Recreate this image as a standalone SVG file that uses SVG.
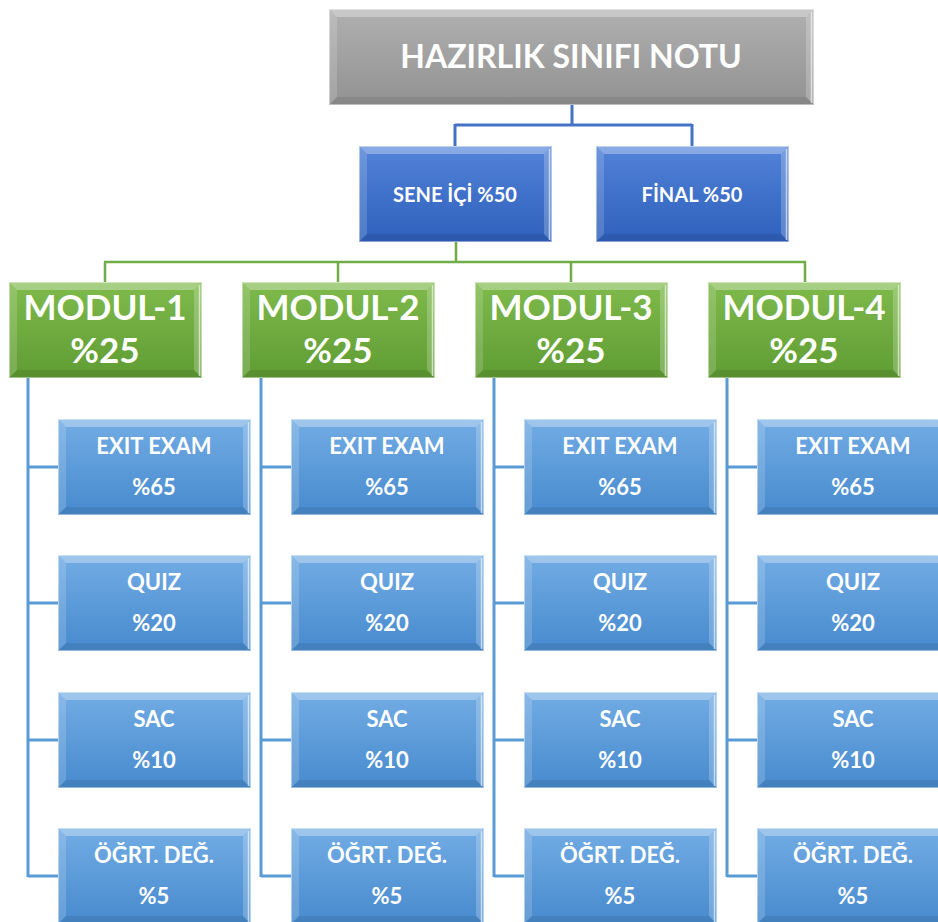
<svg xmlns="http://www.w3.org/2000/svg" xmlns:xlink="http://www.w3.org/1999/xlink" width="938" height="922" viewBox="0 0 938 922">
<style>
text{font-family:Lato,"Open Sans","Liberation Sans",sans-serif;font-weight:bold;fill:#ffffff;text-anchor:middle}
.t0{font-size:32px}
.t1{font-size:20px}
.t2{font-size:35px}
.t3{font-size:22px}
.cb{stroke:#4472c4;stroke-width:3;fill:none}
.cg{stroke:#70ad47;stroke-width:2.5;fill:none}
.cl{stroke:#5b9bd5;stroke-width:3;fill:none}
.edge{fill:none;stroke:#ffffff;stroke-opacity:0.45;stroke-width:1}
</style>
<defs>
<linearGradient id="gGray" x1="0" y1="0" x2="0" y2="1"><stop offset="0" stop-color="#b0b0b0"/><stop offset="1" stop-color="#929292"/></linearGradient>
<linearGradient id="gBlue" x1="0" y1="0" x2="0" y2="1"><stop offset="0" stop-color="#5283d8"/><stop offset="1" stop-color="#2f60bc"/></linearGradient>
<linearGradient id="gGreen" x1="0" y1="0" x2="0" y2="1"><stop offset="0" stop-color="#7fba4c"/><stop offset="1" stop-color="#5f9c33"/></linearGradient>
<linearGradient id="gLight" x1="0" y1="0" x2="0" y2="1"><stop offset="0" stop-color="#72ace4"/><stop offset="1" stop-color="#478ace"/></linearGradient>
<g id="bev">
<polygon points="0,0 193,0 185,8 8,8" fill="#ffffff" fill-opacity="0.32"/>
<polygon points="0,0 8,8 8,88 0,96" fill="#ffffff" fill-opacity="0.16"/>
<polygon points="193,0 193,96 185,88 185,8" fill="#ffffff" fill-opacity="0.22"/>
<polygon points="0,96 8,88 185,88 193,96" fill="#000000" fill-opacity="0.08"/>
<line x1="190.5" y1="3" x2="190.5" y2="94" stroke="#ffffff" stroke-opacity="0.6" stroke-width="1.5"/>
<rect x="0.5" y="0.5" width="192" height="95" class="edge"/>
</g>
<g id="bevW">
<polygon points="0,0 485,0 477,8 8,8" fill="#ffffff" fill-opacity="0.32"/>
<polygon points="0,0 8,8 8,88 0,96" fill="#ffffff" fill-opacity="0.16"/>
<polygon points="485,0 485,96 477,88 477,8" fill="#ffffff" fill-opacity="0.22"/>
<polygon points="0,96 8,88 477,88 485,96" fill="#000000" fill-opacity="0.08"/>
<line x1="482.5" y1="3" x2="482.5" y2="94" stroke="#ffffff" stroke-opacity="0.6" stroke-width="1.5"/>
<rect x="0.5" y="0.5" width="484" height="95" class="edge"/>
</g>
</defs>
<rect width="938" height="922" fill="#ffffff"/>

<g id="connectors">
<path class="cb" d="M572,105 V125 M455,125 H692 M455,124 V146 M692,124 V146"/>
<path class="cg" d="M456,242 V262 M104,262 H806 M105,262 V282 M338,262 V282 M571,262 V282 M805,262 V282"/>
<path class="cl" d="M28,378 V877 M28,467 H58 M28,603 H58 M28,740 H58 M28,876 H58"/>
<path class="cl" d="M261,378 V877 M261,467 H291 M261,603 H291 M261,740 H291 M261,876 H291"/>
<path class="cl" d="M494,378 V877 M494,467 H524 M494,603 H524 M494,740 H524 M494,876 H524"/>
<path class="cl" d="M727,378 V877 M727,467 H757 M727,603 H757 M727,740 H757 M727,876 H757"/>
</g>

<g id="root">
<rect x="329" y="9" width="485" height="96" fill="url(#gGray)"/>
<use xlink:href="#bevW" x="329" y="9"/>
<text class="t0" x="571" y="68">HAZIRLIK SINIFI NOTU</text>
</g>
<g id="sene-ici">
<rect x="359" y="146" width="193" height="96" fill="url(#gBlue)"/>
<use xlink:href="#bev" x="359" y="146"/>
<text class="t1" x="455" y="202">SENE İÇİ %50</text>
</g>
<g id="final">
<rect x="596" y="146" width="193" height="96" fill="url(#gBlue)"/>
<use xlink:href="#bev" x="596" y="146"/>
<text class="t1" x="692" y="202">FİNAL %50</text>
</g>

<g id="modul-1">
<rect x="9" y="282" width="193" height="96" fill="url(#gGreen)"/>
<use xlink:href="#bev" x="9" y="282"/>
<text class="t2" x="105" y="320">MODUL-1</text>
<text class="t2" x="105" y="363">%25</text>
</g>
<g id="modul-2">
<rect x="242" y="282" width="193" height="96" fill="url(#gGreen)"/>
<use xlink:href="#bev" x="242" y="282"/>
<text class="t2" x="338" y="320">MODUL-2</text>
<text class="t2" x="338" y="363">%25</text>
</g>
<g id="modul-3">
<rect x="475" y="282" width="193" height="96" fill="url(#gGreen)"/>
<use xlink:href="#bev" x="475" y="282"/>
<text class="t2" x="571" y="320">MODUL-3</text>
<text class="t2" x="571" y="363">%25</text>
</g>
<g id="modul-4">
<rect x="708" y="282" width="193" height="96" fill="url(#gGreen)"/>
<use xlink:href="#bev" x="708" y="282"/>
<text class="t2" x="804" y="320">MODUL-4</text>
<text class="t2" x="804" y="363">%25</text>
</g>

<g id="m1-exit"><rect x="58" y="419" width="193" height="96" fill="url(#gLight)"/><use xlink:href="#bev" x="58" y="419"/><text class="t3" x="154" y="454">EXIT EXAM</text><text class="t3" x="154" y="495">%65</text></g>
<g id="m1-quiz"><rect x="58" y="555" width="193" height="96" fill="url(#gLight)"/><use xlink:href="#bev" x="58" y="555"/><text class="t3" x="154" y="590">QUIZ</text><text class="t3" x="154" y="631">%20</text></g>
<g id="m1-sac"><rect x="58" y="692" width="193" height="96" fill="url(#gLight)"/><use xlink:href="#bev" x="58" y="692"/><text class="t3" x="154" y="727">SAC</text><text class="t3" x="154" y="768">%10</text></g>
<g id="m1-ogrt"><rect x="58" y="828" width="193" height="96" fill="url(#gLight)"/><use xlink:href="#bev" x="58" y="828"/><text class="t3" x="154" y="863">ÖĞRT. DEĞ.</text><text class="t3" x="154" y="904">%5</text></g>

<g id="m2-exit"><rect x="291" y="419" width="193" height="96" fill="url(#gLight)"/><use xlink:href="#bev" x="291" y="419"/><text class="t3" x="387" y="454">EXIT EXAM</text><text class="t3" x="387" y="495">%65</text></g>
<g id="m2-quiz"><rect x="291" y="555" width="193" height="96" fill="url(#gLight)"/><use xlink:href="#bev" x="291" y="555"/><text class="t3" x="387" y="590">QUIZ</text><text class="t3" x="387" y="631">%20</text></g>
<g id="m2-sac"><rect x="291" y="692" width="193" height="96" fill="url(#gLight)"/><use xlink:href="#bev" x="291" y="692"/><text class="t3" x="387" y="727">SAC</text><text class="t3" x="387" y="768">%10</text></g>
<g id="m2-ogrt"><rect x="291" y="828" width="193" height="96" fill="url(#gLight)"/><use xlink:href="#bev" x="291" y="828"/><text class="t3" x="387" y="863">ÖĞRT. DEĞ.</text><text class="t3" x="387" y="904">%5</text></g>

<g id="m3-exit"><rect x="524" y="419" width="193" height="96" fill="url(#gLight)"/><use xlink:href="#bev" x="524" y="419"/><text class="t3" x="620" y="454">EXIT EXAM</text><text class="t3" x="620" y="495">%65</text></g>
<g id="m3-quiz"><rect x="524" y="555" width="193" height="96" fill="url(#gLight)"/><use xlink:href="#bev" x="524" y="555"/><text class="t3" x="620" y="590">QUIZ</text><text class="t3" x="620" y="631">%20</text></g>
<g id="m3-sac"><rect x="524" y="692" width="193" height="96" fill="url(#gLight)"/><use xlink:href="#bev" x="524" y="692"/><text class="t3" x="620" y="727">SAC</text><text class="t3" x="620" y="768">%10</text></g>
<g id="m3-ogrt"><rect x="524" y="828" width="193" height="96" fill="url(#gLight)"/><use xlink:href="#bev" x="524" y="828"/><text class="t3" x="620" y="863">ÖĞRT. DEĞ.</text><text class="t3" x="620" y="904">%5</text></g>

<g id="m4-exit"><rect x="757" y="419" width="193" height="96" fill="url(#gLight)"/><use xlink:href="#bev" x="757" y="419"/><text class="t3" x="853" y="454">EXIT EXAM</text><text class="t3" x="853" y="495">%65</text></g>
<g id="m4-quiz"><rect x="757" y="555" width="193" height="96" fill="url(#gLight)"/><use xlink:href="#bev" x="757" y="555"/><text class="t3" x="853" y="590">QUIZ</text><text class="t3" x="853" y="631">%20</text></g>
<g id="m4-sac"><rect x="757" y="692" width="193" height="96" fill="url(#gLight)"/><use xlink:href="#bev" x="757" y="692"/><text class="t3" x="853" y="727">SAC</text><text class="t3" x="853" y="768">%10</text></g>
<g id="m4-ogrt"><rect x="757" y="828" width="193" height="96" fill="url(#gLight)"/><use xlink:href="#bev" x="757" y="828"/><text class="t3" x="853" y="863">ÖĞRT. DEĞ.</text><text class="t3" x="853" y="904">%5</text></g>
</svg>
